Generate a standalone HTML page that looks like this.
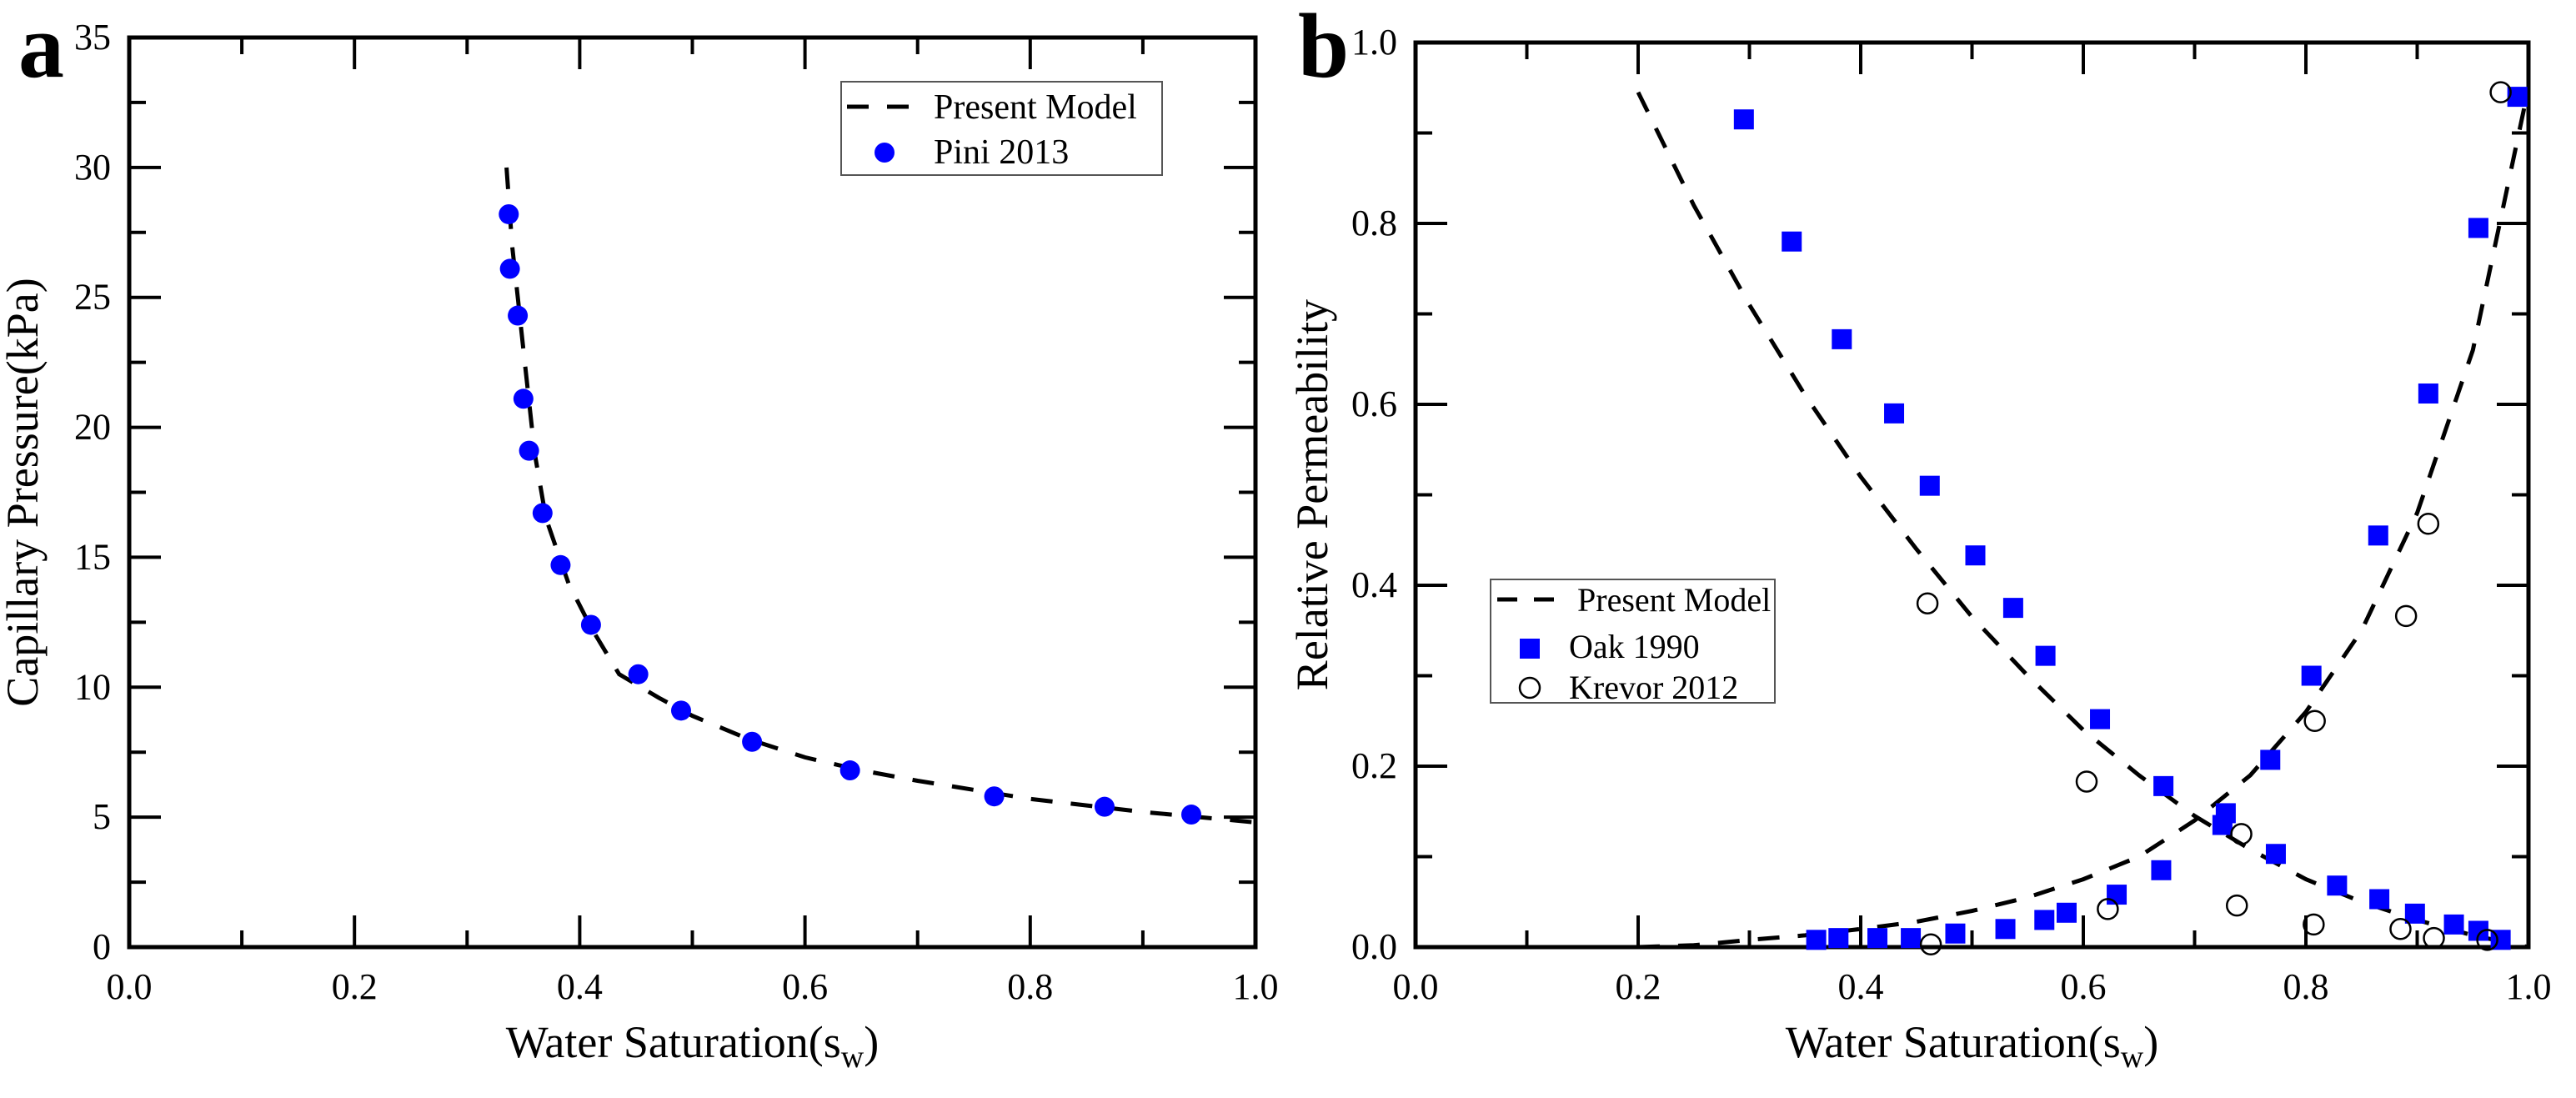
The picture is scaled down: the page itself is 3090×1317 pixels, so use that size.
<!DOCTYPE html>
<html><head><meta charset="utf-8"><style>
html,body{margin:0;padding:0;background:#fff;}
svg, svg text{font-family:"Liberation Serif","DejaVu Serif",serif;}
</style></head><body>
<svg id="fig" width="3090" height="1312" viewBox="0 0 3090 1312" xmlns="http://www.w3.org/2000/svg" font-family="Liberation Serif, DejaVu Serif, serif"></svg>
<script>
// ---- Panel a data ----
const piniSw = [0.337,0.338,0.345,0.350,0.355,0.367,0.383,0.410,0.452,0.490,0.553,0.640,0.768,0.866,0.943];
const piniPc = [28.2,26.1,24.3,21.1,19.1,16.7,14.7,12.4,10.5,9.1,7.9,6.8,5.8,5.4,5.1];
const modelASw = [0.335,0.340,0.345,0.350,0.360,0.370,0.390,0.410,0.435,0.470,0.500,0.550,0.600,0.650,0.700,0.800,0.900,1.000];
const modelAPc = [30.0,27.0,25.0,23.0,19.0,16.5,14.0,12.3,10.5,9.6,8.9,8.0,7.3,6.8,6.4,5.7,5.2,4.8];
const aXTicks = ["0.0","0.2","0.4","0.6","0.8","1.0"];
const aYTicks = ["0","5","10","15","20","25","30","35"];
// ---- Panel b data ----
const oakWSw = [0.36,0.38,0.415,0.445,0.485,0.53,0.565,0.585,0.63,0.67,0.725,0.768,0.805,0.865,0.91,0.955,0.99];
const oakWKr = [0.008,0.01,0.01,0.01,0.015,0.02,0.03,0.038,0.058,0.085,0.135,0.207,0.30,0.455,0.612,0.795,0.94];
const oakNSw = [0.295,0.338,0.383,0.43,0.462,0.503,0.537,0.566,0.615,0.672,0.728,0.773,0.828,0.866,0.898,0.933,0.955,0.975];
const oakNKr = [0.915,0.78,0.672,0.59,0.51,0.433,0.375,0.322,0.252,0.178,0.148,0.103,0.068,0.053,0.037,0.025,0.018,0.008];
const krevSw = [0.46,0.603,0.622,0.738,0.742,0.808,0.807,0.89,0.885,0.91,0.915,0.963,0.975,0.463];
const krevKr = [0.38,0.183,0.042,0.046,0.125,0.25,0.025,0.366,0.02,0.468,0.01,0.008,0.945,0.003];
const modelNSw = [0.2,0.25,0.3,0.35,0.4,0.45,0.5,0.55,0.6,0.65,0.7,0.75,0.8,0.85,0.9,0.95,1.0];
const modelNKr = [0.945,0.82,0.71,0.61,0.52,0.44,0.365,0.30,0.24,0.19,0.145,0.108,0.075,0.05,0.03,0.013,0.0];
const modelWSw = [0.2,0.25,0.3,0.35,0.4,0.45,0.5,0.55,0.6,0.65,0.7,0.75,0.8,0.85,0.9,0.95,1.0];
const modelWKr = [0.0,0.002,0.008,0.013,0.02,0.028,0.04,0.055,0.075,0.1,0.14,0.19,0.26,0.35,0.48,0.66,0.95];
const bXTicks = ["0.0","0.2","0.4","0.6","0.8","1.0"];
const bYTicks = ["0.0","0.2","0.4","0.6","0.8","1.0"];

const NS="http://www.w3.org/2000/svg";
const svg=document.getElementById('fig');
const FF="Liberation Serif, DejaVu Serif, serif";
function mk(tag,attrs,parent){const e=document.createElementNS(NS,tag);for(const k in attrs)e.setAttribute(k,attrs[k]);if(tag==='text')e.setAttribute('font-family',FF);(parent||svg).appendChild(e);return e;}

function panel(o){
  const g=mk('g',{});
  
  
  const X=v=>o.x0+(v-o.xmin)/(o.xmax-o.xmin)*(o.x1-o.x0);
  const Y=v=>o.y1-(v-o.ymin)/(o.ymax-o.ymin)*(o.y1-o.y0);
  const frame=mk('rect',{x:o.x0,y:o.y0,width:o.x1-o.x0,height:o.y1-o.y0,fill:'none',stroke:'#000','stroke-width':5},g);
  
  
  const nx=o.xt.length-1;
  for(let i=0;i<=nx*2;i++){
    const v=o.xmin+(o.xmax-o.xmin)*i/(nx*2);const x=X(v);const L=i%2?20:38;
    mk('line',{x1:x,y1:o.y1,x2:x,y2:o.y1-L,stroke:'#000','stroke-width':4},g);
    mk('line',{x1:x,y1:o.y0,x2:x,y2:o.y0+L,stroke:'#000','stroke-width':4},g);
  }
  o.xt.forEach((t,i)=>{const tx=mk('text',{x:X(o.xmin+(o.xmax-o.xmin)*i/nx),y:o.y1+62,'font-size':44,'text-anchor':'middle'},g);tx.textContent=t;
    
    });
  const ny=o.yt.length-1;
  for(let i=0;i<=ny*2;i++){
    const v=o.ymin+(o.ymax-o.ymin)*i/(ny*2);const y=Y(v);const L=i%2?20:38;
    mk('line',{x1:o.x0,y1:y,x2:o.x0+L,y2:y,stroke:'#000','stroke-width':4},g);
    mk('line',{x1:o.x1,y1:y,x2:o.x1-L,y2:y,stroke:'#000','stroke-width':4},g);
  }
  o.yt.forEach((t,i)=>{const ty=mk('text',{x:o.x0-22,y:Y(o.ymin+(o.ymax-o.ymin)*i/ny)+14,'font-size':44,'text-anchor':'end'},g);ty.textContent=t;
    
    });
  const xt=mk('text',{x:(o.x0+o.x1)/2,y:1268,'font-size':54,'text-anchor':'middle'},g);
  xt.innerHTML='Water Saturation(s<tspan font-size="38" dy="12">w</tspan><tspan dy="-12">)</tspan>';
  
  
  const yt=mk('text',{x:0,y:0,'font-size':54,'text-anchor':'middle',transform:`translate(${o.ytx},${(o.y0+o.y1)/2}) rotate(-90)`},g);
  yt.textContent=o.ytitle;
  
  
  const lab=mk('text',{x:o.labx,y:92,'font-size':110,'font-weight':'bold'},g);
  lab.textContent=o.lab;
  
  
  return {g,X,Y};
}
function dashed(p,xs,ys,name){
  const d=xs.map((v,i)=>(i?'L':'M')+p.X(v).toFixed(1)+' '+p.Y(ys[i]).toFixed(1)).join(' ');
  const e=mk('path',{d,fill:'none',stroke:'#000','stroke-width':5,'stroke-dasharray':'26 22'},p.g);
  
  
}

const pa=panel({name:'panel-a',x0:155,x1:1506,y0:45,y1:1136,xmin:0,xmax:1,ymin:0,ymax:35,xt:aXTicks,yt:aYTicks,ytitle:'Capillary Pressure(kPa)',ytx:45,lab:'a',labx:22});
dashed(pa,modelASw,modelAPc,'present-model-curve');
piniSw.forEach((v,i)=>{const c=mk('circle',{cx:pa.X(v),cy:pa.Y(piniPc[i]),r:12,fill:'#0000ff'},pa.g);
  
  });
const la=mk('g',{},pa.g);


mk('rect',{x:1009,y:98,width:385,height:112,fill:'#fff',stroke:'#555','stroke-width':2},la);
mk('line',{x1:1016,y1:128,x2:1100,y2:128,stroke:'#000','stroke-width':5,'stroke-dasharray':'26 22'},la);
mk('circle',{cx:1061,cy:183,r:12,fill:'#0000ff'},la);
const t1=mk('text',{x:1120,y:142,'font-size':42},la);t1.textContent='Present Model';
const t2=mk('text',{x:1120,y:196,'font-size':42},la);t2.textContent='Pini 2013';

const pb=panel({name:'panel-b',x0:1698,x1:3033,y0:51,y1:1136,xmin:0,xmax:1,ymin:0,ymax:1,xt:bXTicks,yt:bYTicks,ytitle:'Relative Permeability',ytx:1592,lab:'b',labx:1557});
dashed(pb,modelNSw,modelNKr,'present-model-krn-curve');
dashed(pb,modelWSw,modelWKr,'present-model-krw-curve');
function sq(xs,ys){xs.forEach((v,i)=>{const r=mk('rect',{x:pb.X(v)-12,y:pb.Y(ys[i])-12,width:24,height:24,fill:'#0000ff'},pb.g);
  
  });}
sq(oakWSw,oakWKr);sq(oakNSw,oakNKr);
krevSw.forEach((v,i)=>{const c=mk('circle',{cx:pb.X(v),cy:pb.Y(krevKr[i]),r:12,fill:'none',stroke:'#000','stroke-width':2.5},pb.g);
  
  });
const lb=mk('g',{},pb.g);


mk('rect',{x:1788,y:695,width:341,height:148,fill:'#fff',stroke:'#555','stroke-width':2},lb);
mk('line',{x1:1796,y1:719,x2:1872,y2:719,stroke:'#000','stroke-width':5,'stroke-dasharray':'24 20'},lb);
mk('rect',{x:1823,y:766,width:24,height:24,fill:'#0000ff'},lb);
mk('circle',{cx:1835,cy:825,r:12,fill:'none',stroke:'#000','stroke-width':2.5},lb);
const u1=mk('text',{x:1892,y:733,'font-size':40},lb);u1.textContent='Present Model';
const u2=mk('text',{x:1882,y:789,'font-size':40},lb);u2.textContent='Oak 1990';
const u3=mk('text',{x:1882,y:838,'font-size':40},lb);u3.textContent='Krevor 2012';
</script>
</body></html>
